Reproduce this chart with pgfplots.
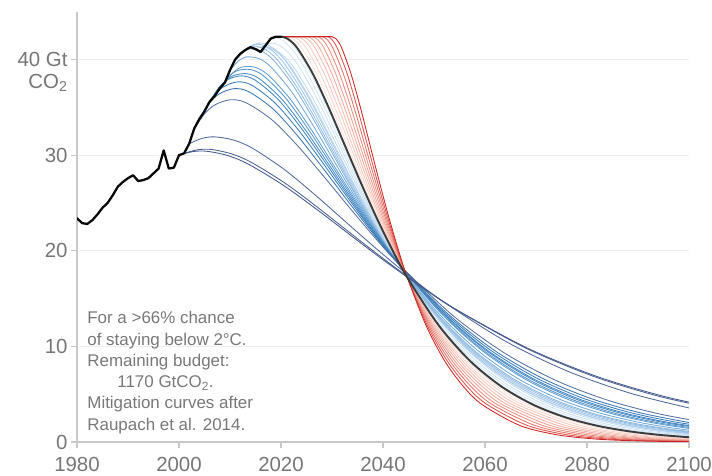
\documentclass[border=0pt]{standalone}
\usepackage{pgfplots}
\pgfplotsset{compat=1.18}
\usepackage{fontspec}
\setmainfont{Liberation Sans}

\definecolor{axgray}{RGB}{200,200,200}
\definecolor{gridgray}{RGB}{238,238,238}
\definecolor{lblgray}{RGB}{118,118,118}
\definecolor{txtgray}{RGB}{120,120,120}
\definecolor{histline}{RGB}{10,10,10}
\definecolor{projline}{RGB}{60,60,60}
% mitigation starting in past years (2000 ... 2019)
\definecolor{b00}{RGB}{68,88,138}
\definecolor{b01}{RGB}{74,95,146}
\definecolor{b02}{RGB}{80,103,154}
\definecolor{b03}{RGB}{88,112,162}
\definecolor{b04}{RGB}{58,118,178}
\definecolor{b05}{RGB}{60,125,185}
\definecolor{b06}{RGB}{64,132,191}
\definecolor{b07}{RGB}{72,140,197}
\definecolor{b08}{RGB}{84,149,203}
\definecolor{b09}{RGB}{98,158,209}
\definecolor{b10}{RGB}{114,168,215}
\definecolor{b11}{RGB}{132,179,221}
\definecolor{b12}{RGB}{148,189,227}
\definecolor{b13}{RGB}{162,198,232}
\definecolor{b14}{RGB}{174,206,236}
\definecolor{b15}{RGB}{185,213,239}
\definecolor{b16}{RGB}{195,220,242}
\definecolor{b17}{RGB}{204,226,245}
\definecolor{b18}{RGB}{212,231,247}
\definecolor{b19}{RGB}{219,236,249}
% mitigation delayed to future years (2021 ... 2030)
\definecolor{r21}{RGB}{250,224,217}
\definecolor{r22}{RGB}{248,212,203}
\definecolor{r23}{RGB}{246,200,189}
\definecolor{r24}{RGB}{244,187,175}
\definecolor{r25}{RGB}{241,173,160}
\definecolor{r26}{RGB}{238,158,145}
\definecolor{r27}{RGB}{234,140,128}
\definecolor{r28}{RGB}{228,116,106}
\definecolor{r29}{RGB}{220,82,76}
\definecolor{r30}{RGB}{205,35,35}

\begin{document}
\begin{tikzpicture}
\useasboundingbox (0,0) rectangle (712bp,476bp);
\begin{axis}[
  at={(77bp,34bp)}, anchor=south west,
  scale only axis, width=612bp, height=430.2bp,
  xmin=1980, xmax=2100, ymin=0, ymax=45,
  axis x line*=bottom, axis y line*=left,
  xtick={1980,2000,...,2100},
  ytick={0,10,20,30,40},
  yticklabels={0,10,20,30,{40 Gt\llap{\smash{\raisebox{-21.5bp}{CO\textsubscript{2}}}}}},
  ymajorgrids, grid style={draw=gridgray, line width=0.9bp},
  tick align=outside, major tick length=6bp,
  axis line style={draw=axgray, line width=1.6bp},
  tick style={draw=axgray, line width=1.2bp},
  ticklabel style={font=\fontsize{20.5}{24}\selectfont, text=lblgray},
  xticklabel style={yshift=-6bp},
  /pgf/number format/1000 sep={},
  /pgf/number format/assume math mode=true,
  fan/.style={smooth, line width=0.85bp},
  every axis plot/.append style={line join=round, line cap=round},
]

% --- curves starting from past emissions, lightest first
\addplot[fan, b19] coordinates {(2019,42.40) (2020.26,42.35) (2021.53,41.92) (2023.42,40.73) (2025.32,39.06) (2028.48,35.62) (2031.64,31.79) (2034.80,27.91) (2037.96,24.19) (2041.12,20.75) (2044.28,17.65) (2050.60,12.51) (2056.92,8.68) (2063.24,5.93) (2069.56,4.00) (2075.88,2.67) (2082.20,1.77) (2088.52,1.16) (2094.84,0.76) (2101.16,0.49)};
\addplot[fan, b18] coordinates {(2018,42.20) (2019.30,42.25) (2020.60,41.91) (2022.56,40.82) (2024.51,39.23) (2027.77,35.86) (2031.02,32.06) (2034.28,28.19) (2037.53,24.46) (2040.79,21.00) (2044.04,17.88) (2050.55,12.69) (2057.06,8.81) (2063.57,6.03) (2070.08,4.07) (2076.59,2.72) (2083.10,1.80) (2089.61,1.18) (2096.12,0.77) (2102.63,0.50)};
\addplot[fan, b17] coordinates {(2017,41.50) (2018.35,41.71) (2019.69,41.50) (2021.71,40.58) (2023.73,39.11) (2027.09,35.89) (2030.45,32.18) (2033.81,28.35) (2037.18,24.64) (2040.54,21.19) (2043.90,18.06) (2050.63,12.84) (2057.35,8.93) (2064.08,6.11) (2070.80,4.13) (2077.53,2.76) (2084.25,1.83) (2090.98,1.20) (2097.70,0.79) (2104.43,0.51)};
\addplot[fan, b16] coordinates {(2016,40.80) (2017.39,41.12) (2018.79,41.02) (2020.88,40.22) (2022.97,38.84) (2026.46,35.74) (2029.94,32.11) (2033.43,28.34) (2036.91,24.66) (2040.40,21.23) (2043.88,18.11) (2050.85,12.89) (2057.82,8.98) (2064.79,6.15) (2071.76,4.15) (2078.73,2.78) (2085.70,1.84) (2092.67,1.21) (2099.64,0.79) (2106.61,0.52)};
\addplot[fan, b15] coordinates {(2015,41.10) (2016.44,41.39) (2017.87,41.25) (2020.03,40.41) (2022.19,39.01) (2025.78,35.86) (2029.37,32.20) (2032.96,28.40) (2036.56,24.71) (2040.15,21.26) (2043.74,18.13) (2050.93,12.90) (2058.11,8.98) (2065.30,6.15) (2072.48,4.15) (2079.67,2.78) (2086.85,1.84) (2094.04,1.21) (2101.22,0.79)};
\addplot[fan, b14] coordinates {(2014,41.30) (2015.46,41.71) (2016.91,41.66) (2019.10,40.92) (2021.28,39.58) (2024.92,36.48) (2028.56,32.82) (2032.20,28.99) (2035.84,25.25) (2039.48,21.75) (2043.12,18.56) (2050.40,13.22) (2057.68,9.21) (2064.96,6.31) (2072.24,4.27) (2079.52,2.85) (2086.80,1.89) (2094.08,1.25) (2101.36,0.82)};
\addplot[fan, b13] coordinates {(2013,41.00) (2014.49,41.53) (2015.98,41.58) (2018.22,40.96) (2020.45,39.71) (2024.18,36.71) (2027.90,33.09) (2031.63,29.27) (2035.35,25.53) (2039.08,22.01) (2042.80,18.80) (2050.25,13.41) (2057.70,9.35) (2065.15,6.41) (2072.60,4.34) (2080.05,2.90) (2087.50,1.93) (2094.95,1.27) (2102.40,0.83)};
\addplot[fan, b12] coordinates {(2012,40.60) (2013.53,41.25) (2015.05,41.41) (2017.34,40.92) (2019.63,39.76) (2023.45,36.85) (2027.26,33.29) (2031.08,29.50) (2034.89,25.76) (2038.71,22.23) (2042.52,19.00) (2050.15,13.57) (2057.78,9.47) (2065.41,6.50) (2073.04,4.40) (2080.67,2.95) (2088.30,1.95) (2095.93,1.29) (2103.56,0.84)};
\addplot[fan, b11] coordinates {(2011,40.00) (2012.56,40.83) (2014.12,41.14) (2016.45,40.82) (2018.79,39.79) (2022.69,37.04) (2026.58,33.56) (2030.48,29.80) (2034.37,26.07) (2038.27,22.53) (2042.16,19.28) (2049.95,13.79) (2057.74,9.64) (2065.53,6.62) (2073.32,4.49) (2081.11,3.00) (2088.90,1.99) (2096.69,1.31) (2104.48,0.86)};
\addplot[fan, b10] coordinates {(2010,38.90) (2011.62,39.85) (2013.23,40.28) (2015.65,40.11) (2018.08,39.20) (2022.11,36.61) (2026.15,33.24) (2030.19,29.58) (2034.23,25.91) (2038.26,22.41) (2042.30,19.20) (2050.38,13.75) (2058.45,9.62) (2066.53,6.61) (2074.60,4.48) (2082.68,3.01) (2090.75,2.00) (2098.83,1.32) (2106.90,0.86)};
\addplot[fan, b09] coordinates {(2009,37.60) (2010.68,38.68) (2012.36,39.22) (2014.88,39.20) (2017.41,38.42) (2021.61,36.01) (2025.81,32.78) (2030.01,29.22) (2034.22,25.63) (2038.42,22.19) (2042.62,19.03) (2051.03,13.65) (2059.43,9.56) (2067.84,6.58) (2076.24,4.46) (2084.65,2.99) (2093.05,1.99) (2101.46,1.31)};
\addplot[fan, b08] coordinates {(2008,37.00) (2009.72,38.21) (2011.44,38.85) (2014.02,38.96) (2016.60,38.29) (2020.89,35.99) (2025.19,32.84) (2029.49,29.32) (2033.79,25.75) (2038.08,22.32) (2042.38,19.15) (2050.98,13.76) (2059.57,9.65) (2068.17,6.64) (2076.76,4.51) (2085.36,3.02) (2093.95,2.01) (2102.55,1.33)};
\addplot[fan, b07] coordinates {(2007,36.20) (2008.77,37.53) (2010.53,38.29) (2013.18,38.53) (2015.83,37.97) (2020.24,35.81) (2024.65,32.74) (2029.06,29.28) (2033.48,25.75) (2037.89,22.35) (2042.30,19.19) (2051.13,13.81) (2059.95,9.69) (2068.78,6.68) (2077.60,4.53) (2086.43,3.04) (2095.25,2.02) (2104.08,1.34)};
\addplot[fan, b06] coordinates {(2006,35.60) (2007.80,37.06) (2009.60,37.92) (2012.30,38.30) (2015.01,37.83) (2019.51,35.79) (2024.01,32.80) (2028.51,29.38) (2033.02,25.87) (2037.52,22.47) (2042.02,19.31) (2051.03,13.91) (2060.03,9.77) (2069.04,6.74) (2078.04,4.58) (2087.05,3.07) (2096.05,2.04) (2105.06,1.35)};
\addplot[fan, b05] coordinates {(2005,34.60) (2006.86,36.18) (2008.71,37.15) (2011.49,37.67) (2014.28,37.32) (2018.91,35.42) (2023.55,32.54) (2028.19,29.20) (2032.83,25.75) (2037.46,22.39) (2042.10,19.26) (2051.38,13.89) (2060.65,9.77) (2069.93,6.74) (2079.20,4.58) (2088.48,3.08) (2097.75,2.05) (2107.03,1.35)};
\addplot[fan, b04] coordinates {(2004,33.80) (2005.92,35.41) (2007.85,36.40) (2010.73,36.96) (2013.62,36.66) (2018.42,34.85) (2023.23,32.04) (2028.04,28.77) (2032.85,25.38) (2037.65,22.08) (2042.46,19.00) (2052.08,13.71) (2061.69,9.64) (2071.31,6.65) (2080.92,4.52) (2090.54,3.04) (2100.15,2.02)};
\addplot[fan, b03] coordinates {(2003,32.80) (2005.03,34.33) (2007.05,35.27) (2010.09,35.80) (2013.14,35.49) (2018.20,33.71) (2023.27,30.98) (2028.34,27.81) (2033.41,24.53) (2038.47,21.34) (2043.54,18.36) (2053.68,13.24) (2063.81,9.31) (2073.95,6.43) (2084.08,4.37) (2094.22,2.93) (2104.35,1.95)};
\addplot[fan, b02] coordinates {(2002,31.20) (2004.48,31.75) (2006.96,31.92) (2010.68,31.59) (2014.40,30.73) (2020.59,28.53) (2026.79,25.80) (2032.99,22.88) (2039.19,19.99) (2045.38,17.26) (2051.58,14.76) (2063.98,10.55) (2076.37,7.37) (2088.77,5.06) (2101.16,3.42)};
\addplot[fan, b01] coordinates {(2001,30.20) (2003.68,30.57) (2006.35,30.60) (2010.37,30.13) (2014.39,29.19) (2021.08,26.97) (2027.77,24.30) (2034.46,21.49) (2041.16,18.74) (2047.85,16.15) (2054.54,13.79) (2067.93,9.84) (2081.31,6.86) (2094.70,4.70) (2108.08,3.18)};
\addplot[fan, b00] coordinates {(2000,30.00) (2002.74,30.38) (2005.47,30.41) (2009.58,29.96) (2013.68,29.04) (2020.52,26.83) (2027.36,24.19) (2034.20,21.40) (2041.04,18.66) (2047.88,16.08) (2054.72,13.74) (2068.40,9.80) (2082.08,6.83) (2095.76,4.68) (2109.44,3.17)};

% --- curves held at the current level until a later start year
\addplot[fan, r21] coordinates {(2020,42.4) (2021,42.4) (2022.19,42.20) (2023.97,41.28) (2026.94,38.57) (2029.91,35.05) (2032.88,31.20) (2035.85,27.33) (2038.82,23.65) (2041.79,20.26) (2044.76,17.21) (2050.70,12.18) (2056.64,8.44) (2062.58,5.76) (2068.52,3.88) (2080.40,1.71) (2092.28,0.74) (2104.16,0.31)};
\addplot[fan, r22] coordinates {(2020,42.4) (2021,42.4) (2022,42.4) (2023.14,42.20) (2024.85,41.28) (2027.69,38.57) (2030.54,35.05) (2033.38,31.20) (2036.23,27.33) (2039.07,23.65) (2041.92,20.26) (2044.76,17.21) (2050.45,12.18) (2056.14,8.44) (2061.83,5.76) (2067.52,3.88) (2078.90,1.71) (2090.28,0.74) (2101.66,0.31)};
\addplot[fan, r23] coordinates {(2020,42.4) (2021,42.4) (2022,42.4) (2023,42.4) (2024.09,42.20) (2025.72,41.28) (2028.44,38.57) (2031.16,35.05) (2033.88,31.20) (2036.60,27.33) (2039.32,23.65) (2042.04,20.26) (2044.76,17.21) (2050.20,12.18) (2055.64,8.44) (2061.08,5.76) (2066.52,3.88) (2077.40,1.71) (2088.28,0.74) (2099.16,0.31) (2110.04,0.13)};
\addplot[fan, r24] coordinates {(2020,42.4) (2021,42.4) (2022,42.4) (2023,42.4) (2024,42.4) (2025.04,42.20) (2026.60,41.28) (2029.19,38.57) (2031.79,35.05) (2034.38,31.20) (2036.98,27.33) (2039.57,23.65) (2042.17,20.26) (2044.76,17.21) (2049.95,12.18) (2055.14,8.44) (2060.33,5.76) (2065.52,3.88) (2075.90,1.71) (2086.28,0.74) (2096.66,0.31) (2107.04,0.13)};
\addplot[fan, r25] coordinates {(2020,42.4) (2021,42.4) (2022,42.4) (2023,42.4) (2024,42.4) (2025,42.4) (2025.99,42.20) (2027.47,41.28) (2029.94,38.57) (2032.41,35.05) (2034.88,31.20) (2037.35,27.33) (2039.82,23.65) (2042.29,20.26) (2044.76,17.21) (2049.70,12.18) (2054.64,8.44) (2059.58,5.76) (2064.52,3.88) (2074.40,1.71) (2084.28,0.74) (2094.16,0.31) (2104.04,0.13)};
\addplot[fan, r26] coordinates {(2020,42.4) (2021,42.4) (2022,42.4) (2023,42.4) (2024,42.4) (2025,42.4) (2026,42.4) (2026.94,42.20) (2028.35,41.28) (2030.69,38.57) (2033.04,35.05) (2035.38,31.20) (2037.73,27.33) (2040.07,23.65) (2042.42,20.26) (2044.76,17.21) (2049.45,12.18) (2054.14,8.44) (2058.83,5.76) (2063.52,3.88) (2072.90,1.71) (2082.28,0.74) (2091.66,0.31) (2101.04,0.13)};
\addplot[fan, r27] coordinates {(2020,42.4) (2021,42.4) (2022,42.4) (2023,42.4) (2024,42.4) (2025,42.4) (2026,42.4) (2027,42.4) (2027.89,42.20) (2029.22,41.28) (2031.44,38.57) (2033.66,35.05) (2035.88,31.20) (2038.10,27.33) (2040.32,23.65) (2042.54,20.26) (2044.76,17.21) (2049.20,12.18) (2053.64,8.44) (2058.08,5.76) (2062.52,3.88) (2071.40,1.71) (2080.28,0.74) (2089.16,0.31) (2098.04,0.13) (2106.92,0.05)};
\addplot[fan, r28] coordinates {(2020,42.4) (2021,42.4) (2022,42.4) (2023,42.4) (2024,42.4) (2025,42.4) (2026,42.4) (2027,42.4) (2028,42.4) (2028.84,42.20) (2030.10,41.28) (2032.19,38.57) (2034.29,35.05) (2036.38,31.20) (2038.48,27.33) (2040.57,23.65) (2042.67,20.26) (2044.76,17.21) (2048.95,12.18) (2053.14,8.44) (2057.33,5.76) (2061.52,3.88) (2069.90,1.71) (2078.28,0.74) (2086.66,0.31) (2095.04,0.13) (2103.42,0.05)};
\addplot[fan, r29] coordinates {(2020,42.4) (2021,42.4) (2022,42.4) (2023,42.4) (2024,42.4) (2025,42.4) (2026,42.4) (2027,42.4) (2028,42.4) (2029,42.4) (2029.79,42.20) (2030.97,41.28) (2032.94,38.57) (2034.91,35.05) (2036.88,31.20) (2038.85,27.33) (2040.82,23.65) (2042.79,20.26) (2044.76,17.21) (2048.70,12.18) (2052.64,8.44) (2056.58,5.76) (2060.52,3.88) (2068.40,1.71) (2076.28,0.74) (2084.16,0.31) (2092.04,0.13) (2099.92,0.05) (2107.80,0.02)};
\addplot[fan, r30] coordinates {(2020,42.4) (2021,42.4) (2022,42.4) (2023,42.4) (2024,42.4) (2025,42.4) (2026,42.4) (2027,42.4) (2028,42.4) (2029,42.4) (2030,42.4) (2030.74,42.20) (2031.85,41.28) (2033.69,38.57) (2035.54,35.05) (2037.38,31.20) (2039.23,27.33) (2041.07,23.65) (2042.92,20.26) (2044.76,17.21) (2048.45,12.18) (2052.14,8.44) (2055.83,5.76) (2059.52,3.88) (2066.90,1.71) (2074.28,0.74) (2081.66,0.31) (2089.04,0.13) (2096.42,0.05) (2103.80,0.02)};

% --- mitigation starting now
\addplot[smooth, projline, line width=1.9bp] coordinates {(2020,42.40) (2021.24,42.20) (2023.10,41.28) (2026.19,38.57) (2029.29,35.05) (2032.38,31.20) (2035.48,27.33) (2038.57,23.65) (2041.67,20.26) (2044.76,17.21) (2050.95,12.18) (2057.14,8.44) (2063.33,5.76) (2069.52,3.88) (2075.71,2.59) (2081.90,1.71) (2088.09,1.13) (2094.28,0.74) (2100.47,0.48)};

% --- historical emissions
\addplot[histline, line width=2.3bp] coordinates {(1980,23.4) (1981,22.9) (1982,22.8) (1983,23.2) (1984,23.8) (1985,24.5) (1986,25.0) (1987,25.8) (1988,26.7) (1989,27.2) (1990,27.6) (1991,27.9) (1992,27.3) (1993,27.4) (1994,27.6) (1995,28.1) (1996,28.6) (1997,30.5) (1998,28.6) (1999,28.7) (2000,30.0) (2001,30.2) (2002,31.2) (2003,32.8) (2004,33.8) (2005,34.6) (2006,35.6) (2007,36.2) (2008,37.0) (2009,37.6) (2010,38.9) (2011,40.0) (2012,40.6) (2013,41.0) (2014,41.3) (2015,41.1) (2016,40.8) (2017,41.5) (2018,42.2) (2019,42.4) (2020,42.4)};

\node[anchor=north west, align=left, inner sep=0pt, text=txtgray,
      font=\fontsize{17}{21.3}\selectfont] at (axis cs:1982,13.65)
  {For a >66\% chance\\of staying below 2°C.\\Remaining budget:\\\hspace*{30bp}1170 GtCO\textsubscript{2}.\\Mitigation curves after\\Raupach et al. 2014.};
\end{axis}
\end{tikzpicture}
\end{document}
